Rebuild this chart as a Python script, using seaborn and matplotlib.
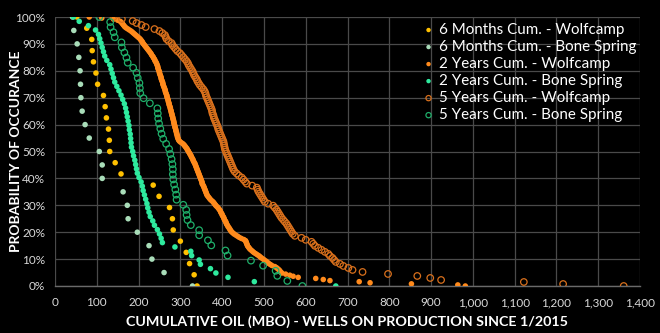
import numpy as np
import pandas as pd
import matplotlib
matplotlib.use("Agg")
import matplotlib.pyplot as plt
import seaborn as sns
from matplotlib.ticker import FuncFormatter

# ---------------- data (cumulative oil, MBO), sorted from P100 down to P0 ----------------
m6_wolfcamp = [52, 76, 88, 89, 92, 98, 102, 116, 120, 123, 128, 130, 131, 144, 158,
               235, 249, 274, 281, 283, 300, 314, 322, 333, 340]

m6_bone_spring = [42, 45, 53, 57, 60, 61, 62, 65, 72, 82, 106, 113, 113, 163, 173,
                  175, 197, 225, 232, 261, 329]

y2_wolfcamp = [82, 112, 140, 150, 156, 159, 161, 163, 165, 167, 170, 174, 178, 182, 185,
               188, 191, 194, 197, 200, 203, 205, 207, 209, 210, 212, 214, 216, 218, 220,
               222, 224, 226, 228, 230, 231, 233, 235, 236, 238, 239, 240, 242, 243, 244,
               245, 246, 246, 247, 248, 249, 250, 250, 251, 252, 253, 254, 254, 255, 256,
               257, 258, 258, 259, 260, 261, 262, 263, 264, 264, 265, 266, 267, 268, 268,
               269, 270, 271, 271, 272, 273, 273, 274, 275, 276, 276, 277, 278, 278, 279,
               280, 280, 281, 282, 282, 283, 284, 284, 285, 285, 286, 287, 287, 288, 289,
               289, 290, 291, 291, 292, 293, 293, 294, 295, 296, 298, 301, 305, 308, 310,
               312, 314, 316, 317, 319, 320, 322, 323, 325, 326, 327, 329, 330, 331, 332,
               334, 335, 336, 337, 338, 339, 340, 341, 342, 343, 344, 345, 346, 347, 348,
               349, 350, 351, 352, 352, 353, 355, 356, 357, 358, 359, 360, 361, 362, 363,
               364, 366, 368, 370, 372, 375, 378, 380, 382, 384, 386, 389, 391, 393, 395,
               396, 397, 399, 400, 401, 403, 404, 405, 406, 408, 409, 410, 411, 413, 414,
               416, 418, 419, 421, 423, 426, 429, 433, 437, 441, 446, 452, 456, 457, 458,
               459, 460, 461, 463, 465, 467, 470, 473, 476, 480, 484, 488, 491, 494, 498,
               501, 505, 508, 511, 515, 519, 526, 530, 533, 536, 538, 540, 543, 552, 562,
               570, 582, 624, 642, 658, 728, 754, 853, 964, 982]

y2_bone_spring = [44, 58, 80, 97, 104, 107, 110, 113, 116, 119, 124, 131, 134, 137, 140,
                  143, 148, 153, 158, 162, 166, 169, 171, 173, 175, 177, 178, 180, 181, 182,
                  183, 186, 188, 191, 193, 195, 197, 201, 206, 209, 211, 214, 217, 220, 222,
                  225, 228, 234, 238, 245, 250, 254, 257, 287, 325, 327, 345, 348, 372, 385,
                  414, 477, 672]

y5_wolfcamp = [140, 160, 186, 195, 207, 217, 238, 250, 257, 263, 265, 267, 272, 279, 281,
               285, 289, 293, 299, 303, 307, 311, 315, 318, 320, 323, 326, 329, 331, 333,
               336, 339, 341, 344, 347, 351, 355, 358, 360, 361, 363, 365, 367, 369, 371,
               373, 375, 376, 377, 379, 380, 382, 384, 386, 388, 390, 391, 393, 395, 397,
               399, 401, 403, 404, 405, 406, 407, 409, 411, 413, 415, 417, 419, 421, 423,
               425, 427, 430, 435, 440, 447, 451, 455, 459, 472, 483, 485, 487, 490, 493,
               496, 499, 502, 510, 522, 526, 530, 533, 536, 539, 542, 546, 550, 554, 557,
               560, 563, 566, 569, 574, 590, 600, 614, 618, 622, 630, 638, 646, 654, 658,
               664, 668, 672, 682, 690, 702, 712, 736, 797, 867, 898, 924, 1122, 1216, 1361]

y5_bone_spring = [106, 132, 133, 140, 143, 159, 160, 166, 171, 174, 187, 195, 198, 202,
                  203, 204, 212, 227, 245, 246, 247, 249, 252, 255, 259, 266, 273, 276,
                  279, 281, 282, 282, 283, 285, 288, 290, 291, 307, 314, 315, 317, 325,
                  345, 345, 366, 374, 408, 413, 469, 498, 528, 532, 556, 592]

series_names = ["6 Months Cum. - Wolfcamp", "6 Months Cum. - Bone Spring",
                "2 Years Cum. - Wolfcamp", "2 Years Cum. - Bone Spring",
                "5 Years Cum. - Wolfcamp", "5 Years Cum. - Bone Spring"]
series_values = [m6_wolfcamp, m6_bone_spring, y2_wolfcamp, y2_bone_spring,
                 y5_wolfcamp, y5_bone_spring]

x_ticks = list(range(0, 1401, 100))
y_ticks = list(range(0, 101, 10))

# ---------------- styling ----------------
colors = ["#FFC000", "#A9DDB9", "#FF8A1C", "#2EEA9E", "#D9701C", "#1FAF6A"]
filled = [True, True, True, True, False, False]

sns.set_theme(style="dark")
plt.rcParams["font.family"] = ["Lato", "DejaVu Sans"]

fig = plt.figure(figsize=(6.6, 3.33), dpi=100, facecolor="#000000")
ax = fig.add_axes([55 / 660, 1 - 286 / 333, 585 / 660, 269 / 333])
ax.set_facecolor("#000000")

for name, vals, col, fill in zip(series_names, series_values, colors, filled):
    n = len(vals)
    rank = np.arange(n)
    df = pd.DataFrame({"oil": sorted(vals), "prob": (n - 1 - rank) / (n - 1) * 100})
    if fill:
        sns.scatterplot(data=df, x="oil", y="prob", ax=ax, color=col, s=16,
                        edgecolor="none", linewidth=0, label=name, zorder=3)
    else:
        sns.scatterplot(data=df, x="oil", y="prob", ax=ax, color=col, s=22,
                        facecolor="none", edgecolor=col, linewidth=0.9,
                        label=name, zorder=3)

ax.set_xlim(0, 1400)
ax.set_ylim(0, 100)
ax.set_xticks(x_ticks)
ax.set_yticks(y_ticks)
ax.xaxis.set_major_formatter(FuncFormatter(lambda v, p: f"{int(v):,}"))
ax.yaxis.set_major_formatter(FuncFormatter(lambda v, p: f"{int(v)}%"))
ax.tick_params(axis="both", length=0, colors="#D9D9D9", labelsize=8.5)
ax.tick_params(axis="x", pad=8)
ax.tick_params(axis="y", pad=7)
ax.grid(True, color="#4A4A4A", linewidth=0.9)
for sp in ["top", "right", "left"]:
    ax.spines[sp].set_visible(False)
ax.spines["bottom"].set_color("#6A6A6A")
ax.spines["bottom"].set_linewidth(1.0)
ax.set_axisbelow(True)

ax.set_xlabel("CUMULATIVE OIL (MBO) - WELLS ON PRODUCTION SINCE 1/2015",
              color="white", fontsize=10.3, fontweight="bold")
ax.xaxis.set_label_coords(0.5, (286 - 322) / 269)
ax.xaxis.label.set_va("center")
ax.set_ylabel("PROBABILITY OF OCCURANCE", color="white", fontsize=10,
              fontweight="bold")
ax.yaxis.set_label_coords((16 - 55) / 585, 0.5)
ax.yaxis.label.set_va("center")

leg = ax.legend(loc="upper left", bbox_to_anchor=(424 / 660, 1 - 23 / 333),
                bbox_transform=fig.transFigure, frameon=False, fontsize=10.9,
                labelcolor="white", markerscale=0.8, handlelength=0.6,
                handletextpad=0.4, labelspacing=0.2, borderpad=0, borderaxespad=0)

fig.savefig("out.png", dpi=100, facecolor=fig.get_facecolor())
